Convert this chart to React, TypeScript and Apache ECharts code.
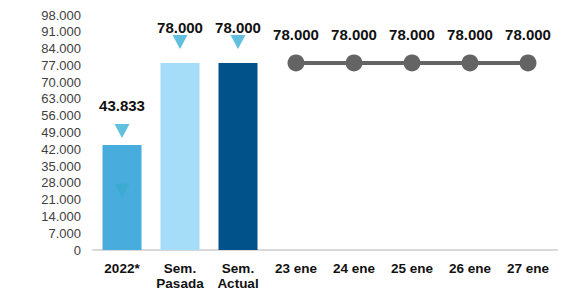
import React, { useEffect, useRef } from "react";
import * as echarts from "echarts";

const categories = ["2022*", "Sem.\nPasada", "Sem.\nActual", "23 ene", "24 ene", "25 ene", "26 ene", "27 ene"];
const barValues = [43833, 78000, 78000, null, null, null, null, null];
const barColors = ["#48ADDC", "#A5DCF7", "#01528A"];
const lineValues = [null, null, null, 78000, 78000, 78000, 78000, 78000];
const triangleValues = [49600, 86700, 86700, null, null, null, null, null];
const fadedTriangleValues = [24700, null, null, null, null, null, null, null];
const labelDistances = [32, 28, 28];

const fmt = (v: number) => (v === 0 ? "0" : v.toLocaleString("de-DE"));

export default function App() {
  const ref = useRef<HTMLDivElement>(null);
  useEffect(() => {
    const chart = echarts.init(ref.current!, null, { renderer: "svg" });
    chart.setOption({
      animation: false,
      grid: { left: 93, right: 10, top: 15, bottom: 37 },
      xAxis: {
        type: "category",
        data: categories,
        axisLine: { lineStyle: { color: "#D9D9D9", width: 2 } },
        axisTick: { show: false },
        axisLabel: {
          interval: 0,
          margin: 11,
          color: "#111",
          fontWeight: "bold",
          fontSize: 13.5,
          lineHeight: 15,
          fontFamily: "Liberation Sans, Arial, sans-serif",
        },
      },
      yAxis: {
        type: "value",
        min: 0,
        max: 98000,
        interval: 7000,
        splitLine: { show: false },
        axisLine: { show: false },
        axisTick: { show: false },
        axisLabel: {
          margin: 12,
          color: "#404040",
          fontSize: 13,
          fontFamily: "Liberation Sans, Arial, sans-serif",
          formatter: (v: number) => fmt(v),
        },
      },
      series: [
        {
          type: "bar",
          barWidth: 39,
          data: barValues.map((v, i) =>
            v == null
              ? null
              : {
                  value: v,
                  itemStyle: { color: barColors[i] },
                  label: {
                    show: true,
                    position: "top",
                    distance: labelDistances[i],
                    formatter: () => fmt(v),
                    color: "#111",
                    fontWeight: "bold",
                    fontSize: 15,
                    fontFamily: "Liberation Sans, Arial, sans-serif",
                  },
                }
          ),
        },
        {
          type: "scatter",
          symbol: "triangle",
          symbolRotate: 180,
          symbolSize: [15, 14],
          itemStyle: { color: "#3AB0D6" },
          data: triangleValues,
          z: 5,
        },
        {
          type: "scatter",
          symbol: "triangle",
          symbolRotate: 180,
          symbolSize: [15, 14],
          itemStyle: { color: "#3AAAD0" },
          data: fadedTriangleValues,
          z: 5,
        },
        {
          type: "line",
          data: lineValues,
          symbol: "circle",
          symbolSize: 17,
          showAllSymbol: true,
          lineStyle: { color: "#646464", width: 4 },
          itemStyle: { color: "#646464" },
          label: {
            show: true,
            position: "top",
            distance: 12,
            formatter: (p: any) => fmt(p.value),
            color: "#111",
            fontWeight: "bold",
            fontSize: 15,
            fontFamily: "Liberation Sans, Arial, sans-serif",
          },
        },
      ],
    });
    return () => chart.dispose();
  }, []);
  return <div ref={ref} style={{ position: "absolute", left: 0, top: 0, width: 567, height: 291 }} />;
}
